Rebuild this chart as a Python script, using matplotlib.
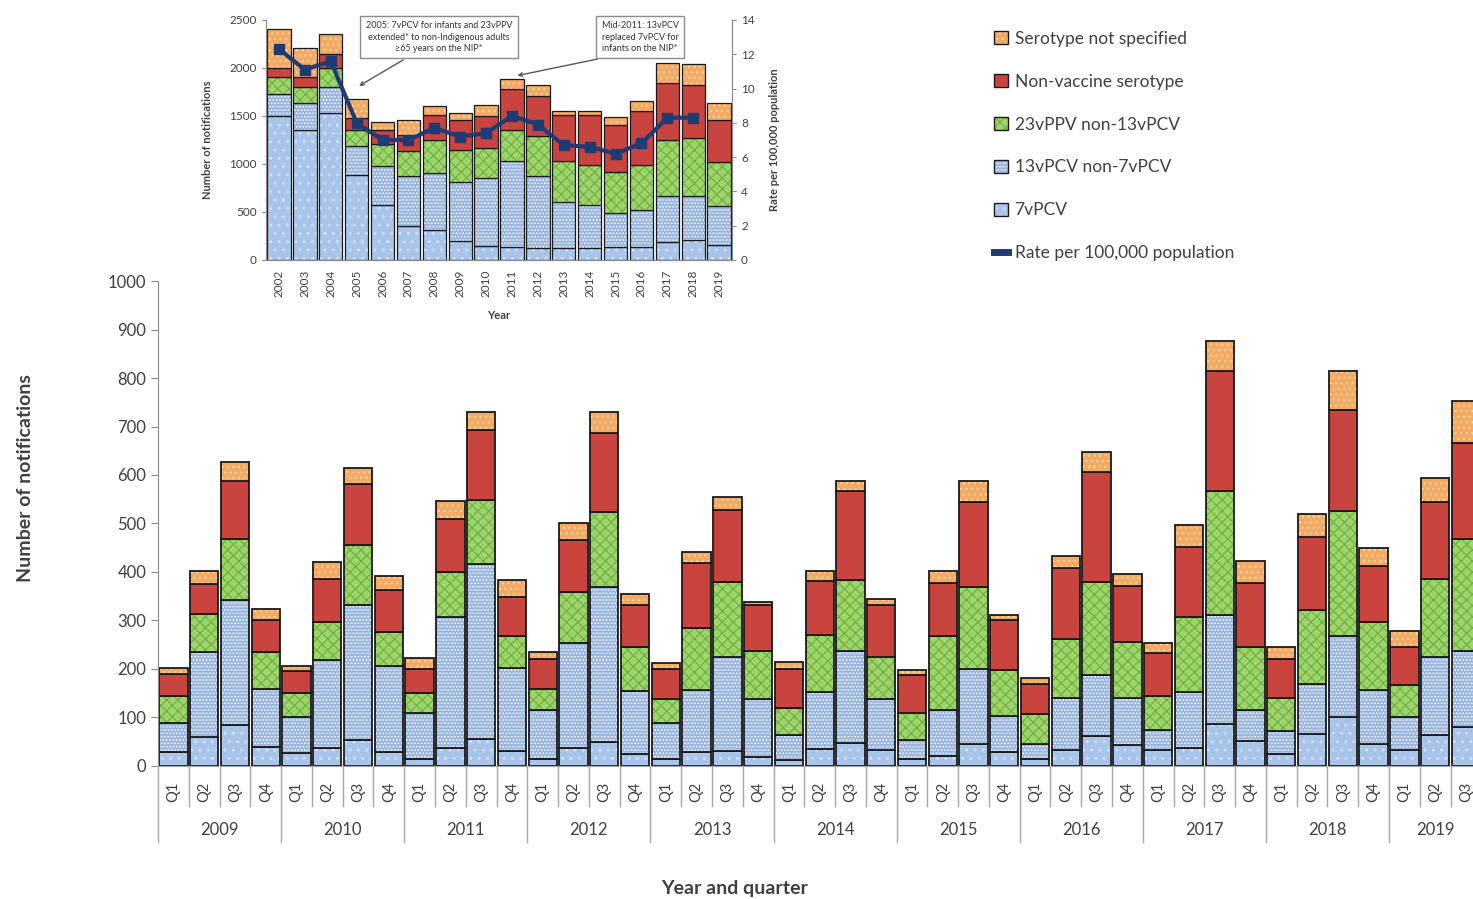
import matplotlib
matplotlib.use("Agg")
import matplotlib.pyplot as plt
import matplotlib.transforms as mtransforms
from matplotlib.patches import Patch
from matplotlib.lines import Line2D
import numpy as np

plt.rcParams['font.family'] = ['Lato', 'DejaVu Sans']
plt.rcParams['hatch.linewidth'] = 0.8

# ---- annual notifications (inset) ----
years = [str(y) for y in range(2002, 2020)]
ann_7v = [1497, 1358, 1532, 888, 575, 355, 313, 202, 146, 132, 122, 122, 122, 132, 139, 192, 209, 157]
ann_13v = [227, 279, 272, 296, 400, 516, 592, 606, 707, 895, 749, 487, 453, 355, 383, 470, 453, 407]
ann_23v = [184, 167, 198, 174, 237, 261, 342, 341, 313, 331, 417, 418, 417, 425, 470, 591, 609, 456]
ann_nvt = [94, 104, 139, 122, 146, 168, 268, 306, 338, 418, 418, 488, 523, 498, 558, 592, 547, 435]
ann_ns = [408, 303, 216, 198, 77, 162, 94, 77, 115, 104, 112, 35, 35, 80, 104, 202, 219, 182]
# no rate shown for 2019
rate = [12.3, 11.1, 11.6, 8.0, 7.0, 7.0, 7.7, 7.2, 7.4, 8.4, 7.9, 6.7, 6.6, 6.2, 6.8, 8.3, 8.3, np.nan]

# ---- quarterly notifications (main chart) ----
q_year = [str(y) for y in range(2009, 2019) for _ in range(4)] + ['2019'] * 3
quarters = ['Q1', 'Q2', 'Q3', 'Q4'] * 10 + ['Q1', 'Q2', 'Q3']
q_7v = [29, 60, 84, 39, 27, 38, 54, 29, 14, 36, 56, 30, 15, 36, 49, 24,
        15, 29, 30, 19, 12, 34, 47, 32, 15, 21, 46, 29, 15, 32, 61, 43,
        32, 38, 86, 51, 25, 65, 101, 46, 32, 63, 80]
q_13v = [60, 176, 258, 120, 74, 180, 277, 178, 95, 271, 361, 172, 100, 217, 321, 130,
         74, 128, 194, 120, 51, 118, 191, 107, 38, 95, 154, 74, 31, 108, 127, 98,
         43, 114, 226, 64, 48, 105, 166, 111, 68, 161, 158]
q_23v = [56, 78, 125, 76, 49, 79, 125, 70, 41, 92, 131, 67, 44, 105, 153, 91,
         50, 128, 155, 99, 56, 118, 146, 85, 56, 151, 170, 95, 62, 122, 192, 114,
         70, 155, 256, 130, 68, 151, 258, 140, 66, 162, 230]
q_nvt = [44, 61, 121, 65, 45, 89, 125, 85, 49, 110, 144, 80, 62, 108, 163, 86,
         61, 133, 149, 94, 81, 112, 182, 108, 78, 110, 174, 102, 62, 146, 227, 117,
         88, 144, 247, 132, 80, 151, 209, 116, 79, 158, 199]
q_ns = [13, 28, 38, 23, 12, 35, 33, 29, 24, 37, 37, 35, 15, 34, 43, 24,
        12, 24, 27, 7, 14, 21, 22, 13, 11, 24, 44, 12, 12, 24, 41, 23,
        20, 45, 61, 45, 24, 48, 81, 37, 34, 50, 86]

labels = ["7vPCV", "13vPCV non-7vPCV", "23vPPV non-13vPCV",
          "Non-vaccine serotype", "Serotype not specified"]
faces = ['#A9C5EC', '#97B4E2', '#9DD56C', '#C9433F', '#F5AA63']
hatches = ['..', '.....', 'xxx', None, '...']
hatch_cols = ['#D9E6F8', 'white', '#6FAE3E', '#C9433F', '#FCDBB3']
rate_col = '#1F3B73'
txt_col = '#404040'
ax_col = '#8c8c8c'


def stacked(ax, x, series, width, lw):
    bottom = np.zeros(len(x))
    for vals, fc, h, hc in zip(series, faces, hatches, hatch_cols):
        vals = np.array(vals, dtype=float)
        ax.bar(x, vals, width, bottom=bottom, color=fc, hatch=h, edgecolor=hc, linewidth=0)
        ax.bar(x, vals, width, bottom=bottom, facecolor='none', edgecolor='#1a1a1a', linewidth=lw)
        bottom += vals
    return bottom


fig = plt.figure(figsize=(14.73, 8.99), dpi=100)

# ---------------- main quarterly chart ----------------
ax = fig.add_axes([0.1073, 0.148, 0.8927, 0.5394])
xq = np.arange(len(quarters))
stacked(ax, xq, [q_7v, q_13v, q_23v, q_nvt, q_ns], 0.92, 1.3)
ax.set_xlim(-0.5, 42.23)
ax.set_ylim(0, 1000)
ax.set_yticks(range(0, 1001, 100))
ax.set_xticks([])
ax.tick_params(axis='y', direction='out', length=5, color=ax_col, labelcolor=txt_col, labelsize=12)
for s in ['top', 'right']:
    ax.spines[s].set_visible(False)
ax.spines['left'].set_color(ax_col)
ax.spines['bottom'].set_color('#a6a6a6')

trans = mtransforms.blended_transform_factory(ax.transData, ax.transAxes)
for i, q in enumerate(quarters):
    ax.text(i, -0.054, q, rotation=90, ha='center', va='center', transform=trans,
            fontsize=10.5, color=txt_col)
for i in range(len(quarters) + 1):
    low = -0.157 if i % 4 == 0 else -0.082
    ax.plot([i - 0.5, i - 0.5], [0, low], transform=trans, color='#a6a6a6', lw=1, clip_on=False)
for yr in sorted(set(q_year)):
    idx = [i for i, y in enumerate(q_year) if y == yr]
    ax.text(np.mean(idx), -0.132, yr, ha='center', va='center', transform=trans,
            fontsize=12, color=txt_col)

fig.text(0.017, 0.468, "Number of notifications", rotation=90, ha='center', va='center',
         fontsize=14, fontweight='bold', color=txt_col)
fig.text(0.499, 0.0122, "Year and quarter", ha='center', va='center',
         fontsize=14, fontweight='bold', color=txt_col)

# ---------------- inset annual chart ----------------
ax_in = fig.add_axes([0.1806, 0.7108, 0.3164, 0.267])
xa = np.arange(len(years))
totals = stacked(ax_in, xa, [ann_7v, ann_13v, ann_23v, ann_nvt, ann_ns], 0.9, 0.9)
ax_in.set_xlim(-0.5, len(years) - 0.5)
ax_in.set_ylim(0, 2500)
ax_in.set_yticks(range(0, 2501, 500))
ax_in.set_xticks(xa, years, rotation=90)
ax_in.tick_params(axis='x', length=0, pad=7, labelsize=8.5, labelcolor=txt_col)
ax_in.tick_params(axis='y', direction='out', length=3, color=ax_col, labelsize=8.5, labelcolor=txt_col)
ax_in.spines['top'].set_visible(False)
for s in ['left', 'bottom', 'right']:
    ax_in.spines[s].set_color(ax_col)
ax_in.set_xlabel("Year", fontsize=8, fontweight='bold', color=txt_col, labelpad=9)
ax_in.set_ylabel("Number of notifications", fontsize=8, fontweight='bold', color=txt_col, labelpad=12)

ax_r = ax_in.twinx()
ax_r.plot(xa, rate, color=rate_col, lw=3, marker='s', ms=7)
ax_r.set_ylim(0, 14)
ax_r.set_yticks(range(0, 15, 2))
ax_r.tick_params(axis='y', direction='out', length=3, color=ax_col, labelsize=8.5, labelcolor=txt_col)
ax_r.spines['top'].set_visible(False)
for s in ['left', 'bottom', 'right']:
    ax_r.spines[s].set_color(ax_col)
ax_r.set_ylabel("Rate per 100,000 population", fontsize=8, fontweight='bold', color=txt_col, labelpad=10)

note1 = "2005: 7vPCV for infants and 23vPPV\nextended* to non-Indigenous adults\n\u226565 years on the NIP*"
note2 = "Mid-2011: 13vPCV\nreplaced 7vPCV for\ninfants on the NIP*"
box = dict(boxstyle='square,pad=0.6', fc='white', ec='#8c8c8c', lw=1)
ax_r.annotate(note1, xy=(3, totals[3] + 120), xycoords=ax_in.transData,
              xytext=(0.298, 0.9588), textcoords='figure fraction', ha='center', va='center',
              fontsize=6.5, color='#333333', linespacing=1.3, bbox=box,
              arrowprops=dict(arrowstyle='->', color='#595959', lw=1, relpos=(0.34, 0)))
ax_r.annotate(note2, xy=(9.1, totals[9] + 35), xycoords=ax_in.transData,
              xytext=(0.4345, 0.9588), textcoords='figure fraction', ha='center', va='center',
              fontsize=6.5, color='#333333', linespacing=1.3, bbox=box,
              arrowprops=dict(arrowstyle='->', color='#595959', lw=1, relpos=(0.55, 0.1)))

# ---------------- legend ----------------
handles = []
for fc, h, hc in zip(faces, hatches, hatch_cols):
    handles.append((Patch(facecolor=fc, hatch=h, edgecolor=hc, lw=0),
                    Patch(facecolor='none', edgecolor='#1a1a1a', lw=1)))
handles = handles[::-1] + [Line2D([0], [0], color=rate_col, lw=5)]
leg_labels = labels[::-1] + ["Rate per 100,000 population"]
fig.legend(handles, leg_labels, loc='upper left', bbox_to_anchor=(0.6687, 0.9755),
           frameon=False, fontsize=12.5, labelcolor=txt_col, handlelength=0.8,
           handleheight=0.8, labelspacing=1.55, handletextpad=0.4, borderpad=0)

fig.savefig("out.png", dpi=100)
